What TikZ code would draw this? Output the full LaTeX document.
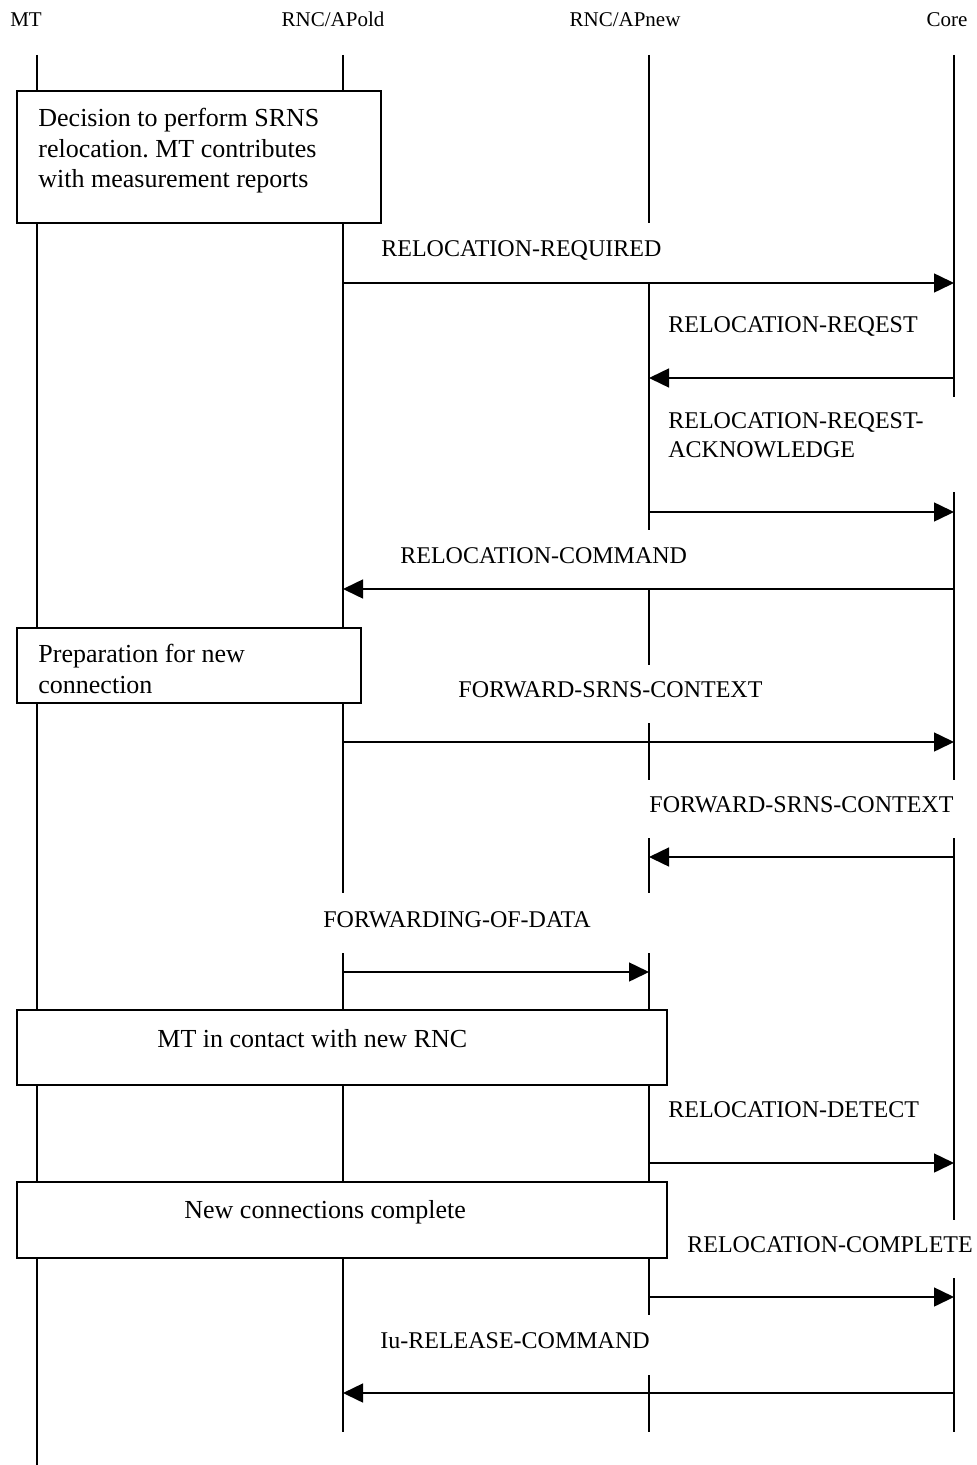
\documentclass[tikz,border=0pt]{standalone}
\usepackage{fontspec}
\setmainfont{Liberation Serif}
\usetikzlibrary{arrows.meta}
\frenchspacing
\begin{document}
\begin{tikzpicture}[x=0.5pt,y=-0.5pt,
  life/.style={line width=0.7pt},
  msg/.style={line width=0.75pt,-{Triangle[length=10pt,width=9.5pt]}},
  actbox/.style={draw,line width=0.8pt,fill=white},
  head/.style={inner sep=0pt,anchor=base,font=\fontsize{10.5}{12}\selectfont},
  lbl/.style={inner sep=0pt,anchor=base west,align=left,font=\fontsize{12}{14.5}\selectfont},
  boxtext/.style={inner sep=0pt,anchor=base west,align=left,font=\fontsize{13}{15.25}\selectfont},
  mask/.style={fill=white}]
\useasboundingbox (0,0) rectangle (977,1465);

% entity names
\node[head] (hMT)   at (26,27)  {MT};
\node[head] (hOld)  at (333,27) {RNC/APold};
\node[head] (hNew)  at (625,27) {RNC/APnew};
\node[head] (hCore) at (947,27) {Core};

% lifelines
\coordinate (mt0)   at (37,55);  \coordinate (mt1)   at (37,1465);
\coordinate (old0)  at (343,55); \coordinate (old1)  at (343,1432);
\coordinate (new0)  at (649,55); \coordinate (new1)  at (649,1432);
\coordinate (core0) at (954,55); \coordinate (core1) at (954,1432);
\draw[life] (mt0) -- (mt1);
\draw[life] (old0) -- (old1);
\draw[life] (new0) -- (new1);
\draw[life] (core0) -- (core1);

% white backgrounds behind the message labels
\fill[mask] (362,223) rectangle (707,282);
\fill[mask] (655,397) rectangle (960,492);
\fill[mask] (380,530) rectangle (726,588);
\fill[mask] (440,665) rectangle (780,723);
\fill[mask] (640,780) rectangle (962,838);
\fill[mask] (330,893) rectangle (660,953);
\fill[mask] (670,1220) rectangle (976,1278);
\fill[mask] (360,1315) rectangle (660,1375);

% activity boxes (multi-line text is placed by its last baseline)
\draw[actbox] (17,91) rectangle (381,223);
\node[boxtext] (bDecision) at (38,188)
  {Decision to perform SRNS\\relocation. MT contributes\\with measurement reports};
\draw[actbox] (17,628) rectangle (361,703);
\node[boxtext] (bPrep) at (38,693) {Preparation for new\\connection};
\draw[actbox] (17,1010) rectangle (667,1085);
\node[boxtext] (bContact) at (157,1047) {MT in contact with new RNC};
\draw[actbox] (17,1182) rectangle (667,1258);
\node[boxtext] (bComplete) at (184,1218) {New connections complete};

% message end points
\coordinate (m1a) at (343,283);  \coordinate (m1b) at (954,283);
\coordinate (m2a) at (954,378);  \coordinate (m2b) at (649,378);
\coordinate (m3a) at (649,512);  \coordinate (m3b) at (954,512);
\coordinate (m4a) at (954,589);  \coordinate (m4b) at (343,589);
\coordinate (m5a) at (343,742);  \coordinate (m5b) at (954,742);
\coordinate (m6a) at (954,857);  \coordinate (m6b) at (649,857);
\coordinate (m7a) at (343,972);  \coordinate (m7b) at (649,972);
\coordinate (m8a) at (649,1163); \coordinate (m8b) at (954,1163);
\coordinate (m9a) at (649,1297); \coordinate (m9b) at (954,1297);
\coordinate (m10a) at (954,1393); \coordinate (m10b) at (343,1393);

% messages
\draw[msg] (m1a) -- (m1b);
\draw[msg] (m2a) -- (m2b);
\draw[msg] (m3a) -- (m3b);
\draw[msg] (m4a) -- (m4b);
\draw[msg] (m5a) -- (m5b);
\draw[msg] (m6a) -- (m6b);
\draw[msg] (m7a) -- (m7b);
\draw[msg] (m8a) -- (m8b);
\draw[msg] (m9a) -- (m9b);
\draw[msg] (m10a) -- (m10b);

% message labels
\node[lbl] (l1)  at (381,257)  {RELOCATION-REQUIRED};
\node[lbl] (l2)  at (668,333)  {RELOCATION-REQEST};
\node[lbl] (l3)  at (668,457)  {RELOCATION-REQEST-\\ACKNOWLEDGE};
\node[lbl] (l4)  at (400,563)  {RELOCATION-COMMAND};
\node[lbl] (l5)  at (458,697)  {FORWARD-SRNS-CONTEXT};
\node[lbl] (l6)  at (649,812)  {FORWARD-SRNS-CONTEXT};
\node[lbl] (l7)  at (323,927)  {FORWARDING-OF-DATA};
\node[lbl] (l8)  at (668,1117) {RELOCATION-DETECT};
\node[lbl] (l9)  at (687,1252) {RELOCATION-COMPLETE};
\node[lbl] (l10) at (380,1348) {Iu-RELEASE-COMMAND};
\end{tikzpicture}
\end{document}
